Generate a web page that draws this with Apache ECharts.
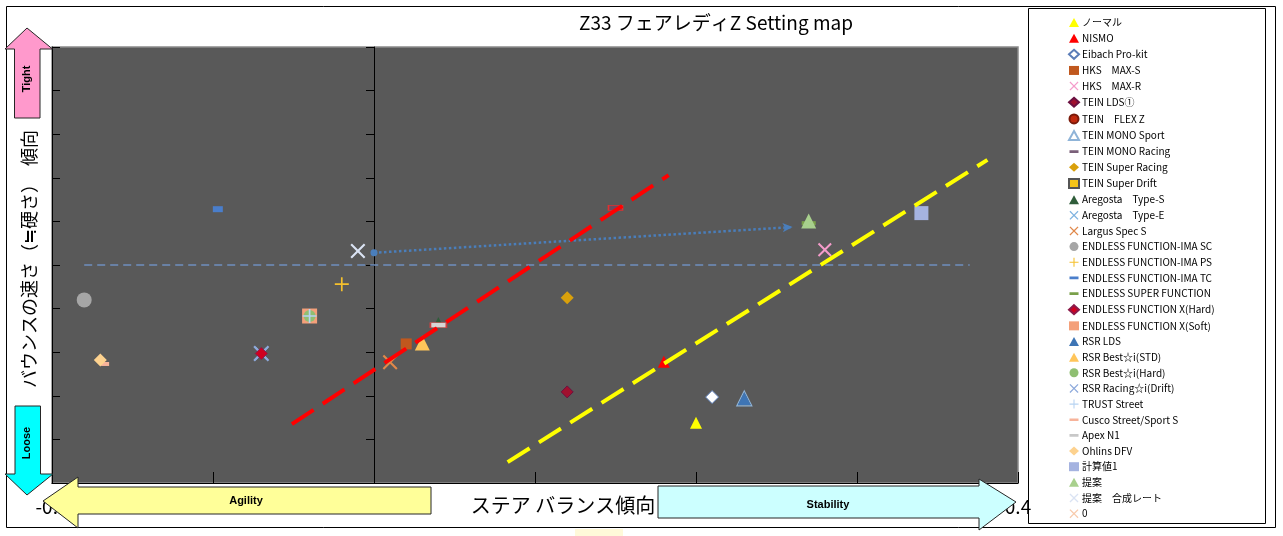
<!DOCTYPE html>
<html><head><meta charset="utf-8">
<script src="https://cdn.jsdelivr.net/npm/echarts@6/dist/echarts.min.js"></script>
<style>html,body{margin:0;padding:0;background:#fff}#c{width:1283px;height:536px}</style>
</head><body><div id="c"></div>
<script>
// ---- data (x: steer balance, y: bounce speed) ----
const xTickLabels = ['-0.2','-0.1','0','0.1','0.2','0.3','0.4'];
const normal      = [[0.20, 1.38]];
const nismo       = [[0.18, 2.78]];
const eibach      = [[0.21, 1.97]];
const hksMaxS     = [[0.02, 3.19]];
const hksMaxR     = [[0.28, 5.35]];
const teinLds     = [[0.12, 2.09]];
const teinFlexZ   = [];
const teinMonoSp  = [[0.23, 1.94]];
const teinMonoRc  = [[0.15, 6.31]];
const teinSuperRc = [[0.12, 4.25]];
const teinSuperDr = [];
const aregostaS   = [[0.04, 3.68]];
const aregostaE   = [[-0.07, 2.97]];
const largus      = [[0.01, 2.77]];
const imaSC       = [[-0.18, 4.20]];
const imaPS       = [[-0.02, 4.56]];
const imaTC       = [[-0.097, 6.28]];
const superFunc   = [[0.27, 5.96]];
const funcXHard   = [[-0.07, 2.97]];
const funcXSoft   = [[-0.04, 3.83]];
const rsrLds      = [[0.23, 1.94]];
const rsrStd      = [[0.03, 3.21]];
const rsrHard     = [[-0.04, 3.83]];
const rsrDrift    = [[-0.07, 2.97]];
const trust       = [[-0.04, 3.83]];
const cusco       = [[-0.167, 2.73]];
const apexN1      = [[0.04, 3.62]];
const ohlins      = [[-0.17, 2.82]];
const calc1       = [[0.34, 6.19]];
const proposal    = [[0.27, 6.01]];
const propRate    = [[-0.01, 5.32]];
const zeroSeries  = [];
const redTrend    = [[-0.051, 1.35], [0.183, 7.06]];
const yellowTrend = [[0.083, 0.48], [0.381, 7.41]];
const baseLine    = [[-0.18, 5.0], [0.37, 5.0]];
const shiftArrow  = [[0, 5.28], [0.26, 5.87]];

// ---- symbols ----
const X = 'path://M1,0L5,4L9,0L10,1L6,5L10,9L9,10L5,6L1,10L0,9L4,5L0,1Z';
const PLUS = 'path://M4.4,0H5.6V4.4H10V5.6H5.6V10H4.4V5.6H0V4.4H4.4Z';
const DASH = 'path://M0,0H0.01V0.01H0Z M0,3.5H10V6.5H0Z M0,9.99H0.01V10H0Z';

const specs = [
  {name:'ノーマル', data:normal, symbol:'triangle', size:12, color:'#ffff00'},
  {name:'NISMO', data:nismo, symbol:'triangle', size:12, color:'#ff0000'},
  {name:'Eibach Pro-kit', data:eibach, symbol:'diamond', size:13, color:'#ffffff', border:'#5b7db8', bw:1},
  {name:'HKS　MAX-S', data:hksMaxS, symbol:'rect', size:11, color:'#c0581e'},
  {name:'HKS　MAX-R', data:hksMaxR, symbol:X, size:14, color:'#f59ccb'},
  {name:'TEIN LDS①', data:teinLds, symbol:'diamond', size:12, color:'#a0102e', border:'#6b1040', bw:1},
  {name:'TEIN　FLEX Z', data:teinFlexZ, symbol:'circle', size:10, color:'#c0290e', border:'#7a1a0a', bw:1},
  {name:'TEIN MONO Sport', data:teinMonoSp, symbol:'triangle', size:15, color:'rgba(0,0,0,0)', border:'#8fb4d8', bw:1.2},
  {name:'TEIN MONO Racing', data:teinMonoRc, symbol:'rect', size:[14,5], color:'#6b4a5e', border:'#e03030', bw:1, icon:DASH, iconColor:'#7a5f79'},
  {name:'TEIN Super Racing', data:teinSuperRc, symbol:'diamond', size:13, color:'#d9a00b'},
  {name:'TEIN Super Drift', data:teinSuperDr, symbol:'rect', size:10, color:'#f5c518', border:'#555555', bw:1},
  {name:'Aregosta　Type-S', data:aregostaS, symbol:'triangle', size:11, color:'#2f5d3a'},
  {name:'Aregosta　Type-E', data:aregostaE, symbol:X, size:13, color:'#7fb3e0'},
  {name:'Largus Spec S', data:largus, symbol:X, size:15, color:'#e0884a'},
  {name:'ENDLESS FUNCTION-IMA SC', data:imaSC, symbol:'circle', size:15, color:'#a6a6a6'},
  {name:'ENDLESS FUNCTION-IMA PS', data:imaPS, symbol:PLUS, size:14, color:'#f5c02c'},
  {name:'ENDLESS FUNCTION-IMA TC', data:imaTC, symbol:'rect', size:[10,6], color:'#4a7ecb', icon:DASH},
  {name:'ENDLESS SUPER FUNCTION', data:superFunc, symbol:'rect', size:[14,4], color:'#7aa04a', icon:DASH},
  {name:'ENDLESS FUNCTION X(Hard)', data:funcXHard, symbol:'diamond', size:12, color:'#d00020', border:'#8b1a4a', bw:1, z:5},
  {name:'ENDLESS FUNCTION X(Soft)', data:funcXSoft, symbol:'rect', size:15, color:'#f4a07a'},
  {name:'RSR LDS', data:rsrLds, symbol:'triangle', size:13, color:'#3e75b5'},
  {name:'RSR Best☆i(STD)', data:rsrStd, symbol:'triangle', size:15, color:'#ffc55a'},
  {name:'RSR Best☆i(Hard)', data:rsrHard, symbol:'circle', size:12, color:'#8fbf72'},
  {name:'RSR Racing☆i(Drift)', data:rsrDrift, symbol:X, size:16, color:'#8eaadc'},
  {name:'TRUST Street', data:trust, symbol:PLUS, size:14, color:'#b7d3f2'},
  {name:'Cusco Street/Sport S', data:cusco, symbol:'rect', size:[8,4], color:'#f7b39a', icon:DASH},
  {name:'Apex N1', data:apexN1, symbol:'rect', size:[16,5], color:'#d6d6d6', border:'#d04040', bw:1, icon:DASH, iconColor:'#c8c8c8'},
  {name:'Ohlins DFV', data:ohlins, symbol:'diamond', size:13, color:'#fdd28f'},
  {name:'計算値1', data:calc1, symbol:'rect', size:14, color:'#a5b3e0'},
  {name:'提案', data:proposal, symbol:'triangle', size:15, color:'#a8d08d'},
  {name:'提案　合成レート', data:propRate, symbol:X, size:15, color:'#dae3f3'},
  {name:'0', data:zeroSeries, symbol:X, size:12, color:'#f8cbad'}
];

const FONT = '"Noto Sans CJK JP", "Noto Sans", sans-serif';

const series = specs.map(s => ({
  type:'scatter', name:s.name, data:s.data, symbol:s.symbol, symbolSize:s.size,
  itemStyle:{color:s.color, borderColor:s.border || s.color, borderWidth:s.bw || 0, opacity:1},
  emphasis:{disabled:true}, z:s.z || 3, silent:true
}));

function lineSeries(name, data, color, width, type, z){
  return {type:'line', name, data, showSymbol:false, symbol:'none', silent:true,
    lineStyle:{color, width, type, cap:'butt'}, z, emphasis:{disabled:true}};
}
series.push(lineSeries('_base', baseLine, '#6f8fbf', 1.5, [8,5], 2));
series.push(lineSeries('_red', redTrend, '#ff0000', 4, [26,11], 6));
series.push(lineSeries('_yellow', yellowTrend, '#ffff00', 4, [26,11], 6));
series.push({
  type:'line', name:'_arrow', data:[], silent:true, z:6,
  markLine:{silent:true, symbol:['circle','arrow'], symbolSize:[7,10], label:{show:false},
    lineStyle:{color:'#4a7ebb', width:2.5, type:'dotted'},
    emphasis:{disabled:true},
    data:[[{coord:shiftArrow[0]},{coord:shiftArrow[1]}]]}
});

const legendData = specs.map(s => {
  const d = {name:s.name};
  if (s.icon) { d.icon = s.icon; d.itemStyle = {color:s.iconColor || s.color, borderWidth:0}; }
  return d;
});

function arrowShape(points, fill, text, tx, ty, rot){
  return [
    {type:'polygon', z:100, shape:{points}, style:{fill, stroke:'#262626', lineWidth:1}},
    {type:'text', z:101, x:tx, y:ty, rotation:rot || 0,
      style:{text, align:'center', verticalAlign:'middle', fill:'#000',
        font:'bold 11px "Liberation Sans", Arial, sans-serif'}}
  ];
}

const graphic = [].concat(
  [{type:'rect', z:99, shape:{x:6.5, y:6.5, width:1269, height:521}, style:{fill:'none', stroke:'#000', lineWidth:1}}],
  [{type:'rect', z:99, shape:{x:1028.5, y:8.5, width:237, height:515}, style:{fill:'none', stroke:'#000', lineWidth:1}}],
  [{type:'rect', z:98, shape:{x:575, y:529, width:48, height:7}, style:{fill:'#fff9d9'}}],
  [{type:'text', z:100, x:716, y:23, style:{text:'Z33 フェアレディZ Setting map', align:'center', verticalAlign:'middle', fill:'#000', font:'19px ' + FONT}}],
  [{type:'text', z:100, x:29, y:259, rotation:Math.PI/2, style:{text:'バウンスの速さ（≒硬さ）　傾向', align:'center', verticalAlign:'middle', fill:'#000', font:'18px ' + FONT}}],
  [{type:'text', z:100, x:563, y:505, style:{text:'ステア バランス傾向', align:'center', verticalAlign:'middle', fill:'#000', font:'20px ' + FONT, backgroundColor:'#fff', padding:[2,6]}}],
  arrowShape([[27,28],[52.5,49],[40,49],[40,118],[14.5,118],[14.5,49],[5,49]], '#ff99cc', 'Tight', 27, 79, Math.PI/2),
  arrowShape([[15,406],[40.5,406],[40.5,474],[53,474],[27,495],[5,474],[15,474]], '#00ffff', 'Loose', 27, 443, Math.PI/2),
  arrowShape([[43,501],[78,477],[78,487],[431,487],[431,514],[78,514],[78,528]], '#ffff99', 'Agility', 246, 501),
  arrowShape([[658,486],[979,486],[979,479],[1016,502],[979,530],[979,518],[658,518]], '#ccffff', 'Stability', 828, 505)
);

const yAxisBase = {
  type:'value', min:0, max:10, interval:1, position:'left',
  axisLine:{show:true, onZero:true, lineStyle:{color:'#000', width:1}},
  axisLabel:{show:false}, splitLine:{show:false}
};

const option = {
  animation:false,
  backgroundColor:'#ffffff',
  textStyle:{fontFamily:FONT},
  grid:{left:52, right:265, top:47, bottom:53, show:true, backgroundColor:'#595959', borderColor:'#8a8a8a', borderWidth:1.5},
  xAxis:{
    type:'value', min:-0.2, max:0.4, interval:0.1, position:'bottom',
    axisLine:{show:true, onZero:false, lineStyle:{color:'#000', width:1}},
    axisTick:{show:true, inside:true, length:11, lineStyle:{color:'#000'}},
    axisLabel:{show:true, margin:14, fontSize:19, color:'#000', fontFamily:FONT,
      formatter:(v) => { const i = Math.round((v + 0.2) * 10); return xTickLabels[i] !== undefined ? xTickLabels[i] : ''; }},
    splitLine:{show:false}
  },
  yAxis:[
    Object.assign({}, yAxisBase, {axisTick:{show:true, inside:false, length:8, lineStyle:{color:'#000'}}}),
    Object.assign({}, yAxisBase, {axisTick:{show:true, inside:true, length:8, lineStyle:{color:'#000'}}})
  ],
  legend:{
    show:true, orient:'vertical', left:1068, top:17.5, padding:0, itemWidth:10, itemHeight:9, itemGap:5.65,
    selectedMode:false, data:legendData,
    textStyle:{fontSize:10, lineHeight:9, color:'#000', fontFamily:FONT, padding:[0,0,0,-2]}
  },
  graphic:graphic,
  series:series
};

const chart = echarts.init(document.getElementById('c'), null, {renderer:'canvas'});
chart.setOption(option);
</script>
</body></html>
